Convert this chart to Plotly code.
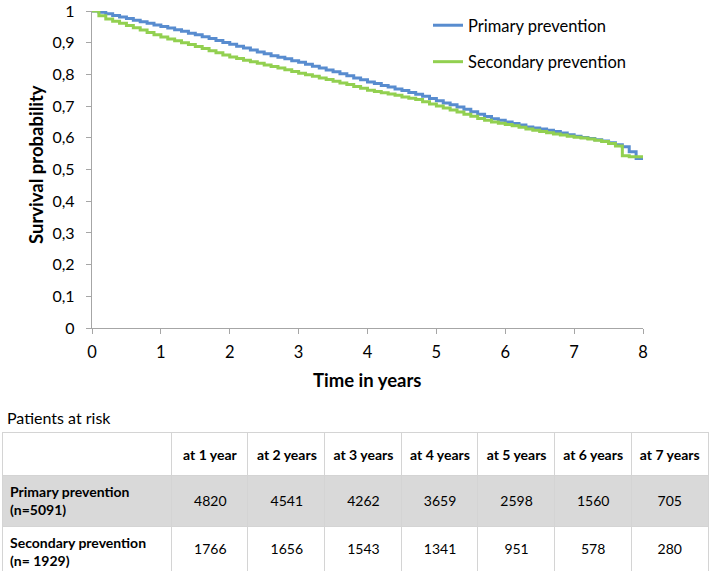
import plotly.graph_objects as go

# follow-up time grid (years)
time_years = [
    0.0, 0.1, 0.2, 0.3, 0.4, 0.5, 0.6, 0.7, 0.8, 0.9,
    1.0, 1.1, 1.2, 1.3, 1.4, 1.5, 1.6, 1.7, 1.8, 1.9,
    2.0, 2.1, 2.2, 2.3, 2.4, 2.5, 2.6, 2.7, 2.8, 2.9,
    3.0, 3.1, 3.2, 3.3, 3.4, 3.5, 3.6, 3.7, 3.8, 3.9,
    4.0, 4.1, 4.2, 4.3, 4.4, 4.5, 4.6, 4.7, 4.8, 4.9,
    5.0, 5.1, 5.2, 5.3, 5.4, 5.5, 5.6, 5.7, 5.8, 5.9,
    6.0, 6.1, 6.2, 6.3, 6.4, 6.5, 6.6, 6.7, 6.8, 6.9,
    7.0, 7.1, 7.2, 7.3, 7.4, 7.5, 7.6, 7.7, 7.8, 7.9,
    8.0,
]

primary_surv = [
    1.000, 0.996, 0.991, 0.986, 0.981, 0.976, 0.971, 0.966, 0.961, 0.956,
    0.951, 0.946, 0.941, 0.936, 0.930, 0.925, 0.919, 0.913, 0.907, 0.901,
    0.895, 0.889, 0.883, 0.877, 0.871, 0.865, 0.859, 0.854, 0.849, 0.843,
    0.838, 0.832, 0.826, 0.820, 0.814, 0.808, 0.802, 0.796, 0.789, 0.783,
    0.776, 0.771, 0.765, 0.760, 0.754, 0.749, 0.743, 0.737, 0.731, 0.724,
    0.717, 0.710, 0.704, 0.697, 0.690, 0.682, 0.674, 0.667, 0.660, 0.655,
    0.650, 0.645, 0.640, 0.634, 0.631, 0.628, 0.624, 0.620, 0.615, 0.610,
    0.605, 0.601, 0.598, 0.594, 0.590, 0.584, 0.578, 0.572, 0.556, 0.535,
    0.535,
]

secondary_surv = [
    1.000, 0.985, 0.975, 0.968, 0.961, 0.954, 0.947, 0.940, 0.932, 0.925,
    0.918, 0.912, 0.906, 0.900, 0.894, 0.888, 0.882, 0.875, 0.868, 0.861,
    0.855, 0.850, 0.845, 0.840, 0.835, 0.830, 0.825, 0.820, 0.815, 0.809,
    0.804, 0.799, 0.794, 0.789, 0.784, 0.778, 0.773, 0.768, 0.762, 0.756,
    0.750, 0.746, 0.742, 0.738, 0.734, 0.729, 0.725, 0.721, 0.714, 0.707,
    0.700, 0.694, 0.688, 0.681, 0.674, 0.668, 0.661, 0.655, 0.650, 0.646,
    0.642, 0.638, 0.633, 0.628, 0.624, 0.620, 0.616, 0.612, 0.609, 0.605,
    0.602, 0.599, 0.596, 0.592, 0.588, 0.582, 0.574, 0.543, 0.540, 0.540,
    0.540,
]

# patients at risk table
risk_headers = ["at 1 year", "at 2 years", "at 3 years", "at 4 years",
                "at 5 years", "at 6 years", "at 7 years"]
risk_groups = ["Primary prevention<br>(n=5091)", "Secondary prevention<br>(n= 1929)"]
risk_primary = [4820, 4541, 4262, 3659, 2598, 1560, 705]
risk_secondary = [1766, 1656, 1543, 1341, 951, 578, 280]

W, H = 709, 571
FONT = "Lato"
BLUE = "#588CCF"
GREEN = "#92D050"
AXIS = "#A6A6A6"
GRID = "#D4D4D4"

fig = go.Figure()

fig.add_trace(go.Scatter(
    x=time_years, y=primary_surv, mode="lines", line_shape="hv",
    line=dict(color=BLUE, width=3), name="Primary prevention",
    legendgroup="p",
))
fig.add_trace(go.Scatter(
    x=time_years, y=secondary_surv, mode="lines", line_shape="hv",
    line=dict(color=GREEN, width=3), name="Secondary prevention",
    legendgroup="s",
))

# table grid, row shading and group labels
n_cols = len(risk_headers)
fig.add_trace(go.Table(
    domain=dict(x=[2 / W, 708 / W], y=[0, 1 - 432 / H]),
    columnwidth=[170] + [77] * n_cols,
    header=dict(values=[""] * (n_cols + 1), height=43,
                fill_color="white", line=dict(color=GRID, width=1)),
    cells=dict(values=[["<b>%s</b>" % g for g in risk_groups]] + [["", ""]] * n_cols,
               height=48, align="left",
               fill_color=[["#D9D9D9", "white"]] * (n_cols + 1),
               line=dict(color=GRID, width=1),
               font=dict(family=FONT, size=14, color="black")),
))

# column headings and counts, set a little lower so they sit mid-cell
fig.add_trace(go.Table(
    domain=dict(x=[172 / W, 708 / W], y=[0, 1 - 438 / H]),
    columnwidth=[77] * n_cols,
    header=dict(values=["<b>%s</b>" % h.replace(" ", "\u00a0") for h in risk_headers],
                height=49, align="center",
                fill_color="rgba(0,0,0,0)", line=dict(color="rgba(0,0,0,0)", width=0),
                font=dict(family=FONT, size=14, color="black")),
    cells=dict(values=[[str(a), str(b)] for a, b in zip(risk_primary, risk_secondary)],
               height=48, align="center",
               fill_color="rgba(0,0,0,0)", line=dict(color="rgba(0,0,0,0)", width=0),
               font=dict(family=FONT, size=14, color="black")),
))

fig.update_layout(
    width=W, height=H,
    margin=dict(l=0, r=0, t=0, b=0, autoexpand=False),
    paper_bgcolor="white", plot_bgcolor="white",
    separators=",.",
    font=dict(family=FONT, size=15, color="black"),
    showlegend=True,
    legend=dict(x=428 / W, y=1 - 8 / H, xanchor="left", yanchor="top",
                font=dict(family=FONT, size=16.5), tracegroupgap=12,
                bgcolor="rgba(0,0,0,0)"),
    xaxis=dict(domain=[92 / W, 643 / W], range=[0, 8], dtick=1,
               automargin=False, ticklabeloverflow="allow",
               showgrid=False, zeroline=False, showline=True,
               linecolor=AXIS, linewidth=1.3, ticks="outside", ticklen=5,
               tickcolor=AXIS, ticklabelstandoff=4,
               tickfont=dict(family=FONT, size=16.5)),
    yaxis=dict(domain=[1 - 328 / H, 1 - 11 / H], range=[0, 1], dtick=0.1,
               automargin=False, ticklabeloverflow="allow",
               showgrid=False, zeroline=False, showline=True,
               linecolor=AXIS, linewidth=1.3, ticks="outside", ticklen=5,
               tickcolor=AXIS, ticklabelstandoff=8,
               tickfont=dict(family=FONT, size=16)),
    annotations=[
        dict(text="<b>Survival probability</b>", textangle=-90,
             xref="paper", yref="paper", x=36 / W, y=1 - 165 / H,
             xanchor="center", yanchor="middle",
             showarrow=False, font=dict(family=FONT, size=18.5)),
        dict(text="<b>Time in years</b>",
             xref="paper", yref="paper", x=367 / W, y=1 - 380 / H,
             xanchor="center", yanchor="middle",
             showarrow=False, font=dict(family=FONT, size=18.5)),
        dict(text="Patients at risk", xanchor="left", yanchor="middle",
             xref="paper", yref="paper", x=5 / W, y=1 - 417 / H,
             showarrow=False, font=dict(family=FONT, size=16)),
    ],
)

# page body has a default 8px margin; drop it so the figure fills the window
fig.write_html("out.html", config={"displayModeBar": False},
               post_script="document.body.style.margin = '0';")
